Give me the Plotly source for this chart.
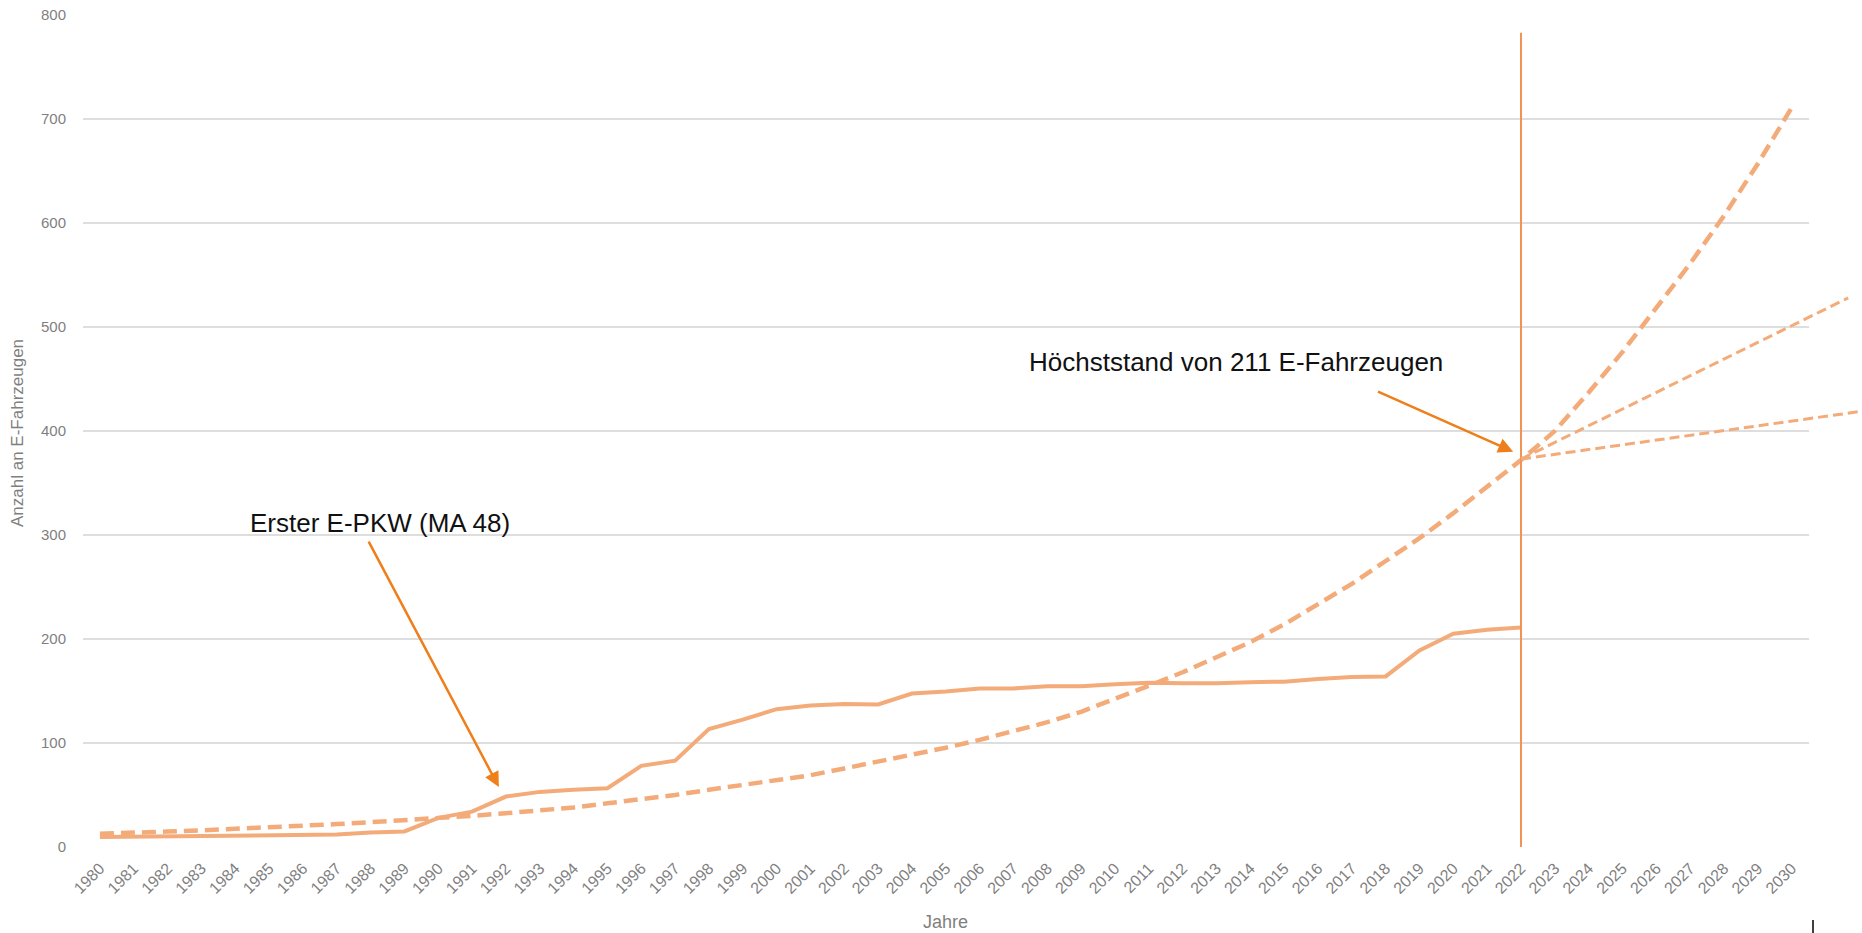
import plotly.graph_objects as go

# ---------------- data ----------------
years_all = list(range(1980, 2031))
years_actual = list(range(1980, 2023))
actual_counts = [9.6, 10, 10, 10, 10.3, 11, 11.5, 11.9, 14, 15,
                 28, 34, 48.5, 53, 55, 56.5, 78, 83, 113.5, 122.5,
                 132.5, 136, 137.5, 137, 147.5, 149.5, 152.5, 152.5, 154.5, 154.5,
                 156.5, 158, 157.5, 157.5, 158.5, 159, 161.5, 163.5, 164, 189,
                 205, 209, 211]
trend_values = [12.8, 13.5, 14.8, 16, 17.3, 18.7, 20.3, 22, 23.8, 25.7,
                27.8, 30, 32.5, 35, 38, 42, 45.5, 50, 55, 60,
                64, 69, 75.5, 82, 88.5, 95.5, 103, 111, 120, 130,
                142, 155, 168, 182, 197, 214, 233, 253, 275, 297,
                321, 346, 372, 400, 437, 476, 518, 561, 607, 657, 711]
proj_mid_x = [2022, 2031.67]
proj_mid_y = [373, 528]
proj_low_x = [2022, 2032.07]
proj_low_y = [373, 419]
marker_year_x = [2022, 2022]
marker_year_y = [0, 783]
y_ticks = list(range(0, 801, 100))
x_ticklabels = [str(y) for y in years_all]

# ---------------- layout constants ----------------
W, H = 1862, 933
ML, MR, MT, MB = 83, 0, 15, 86
PLOT_RIGHT_PX = 1808.6
d = (PLOT_RIGHT_PX - ML) / (W - ML - MR)
x_lo, x_hi = 1979.5, 2030.5
x2_hi = x_lo + (x_hi - x_lo) / d

LINE = "#F4AB7A"
ARROW = "#EE7F1A"
GRID = "#DEDEDE"
TXT = "#7F7F7F"
FONT = "Liberation Sans, Arial, sans-serif"

fig = go.Figure()

fig.add_trace(go.Scatter(x=years_all, y=trend_values, mode="lines",
                         line=dict(color=LINE, width=4.5, dash="14px,7px"),
                         xaxis="x", yaxis="y", hoverinfo="skip"))
fig.add_trace(go.Scatter(x=years_actual, y=actual_counts, mode="lines",
                         line=dict(color=LINE, width=4),
                         xaxis="x", yaxis="y"))
fig.add_trace(go.Scatter(x=marker_year_x, y=marker_year_y, mode="lines",
                         line=dict(color="#F29355", width=2),
                         xaxis="x", yaxis="y", hoverinfo="skip"))
fig.add_trace(go.Scatter(x=proj_mid_x, y=proj_mid_y, mode="lines",
                         line=dict(color=LINE, width=3, dash="10px,5px"),
                         xaxis="x2", yaxis="y2", hoverinfo="skip"))
fig.add_trace(go.Scatter(x=proj_low_x, y=proj_low_y, mode="lines",
                         line=dict(color=LINE, width=3, dash="10px,5px"),
                         xaxis="x2", yaxis="y2", hoverinfo="skip"))

fig.update_layout(
    width=W, height=H,
    margin=dict(l=ML, r=MR, t=MT, b=MB, pad=0),
    paper_bgcolor="white", plot_bgcolor="rgba(0,0,0,0)",
    showlegend=False,
    font=dict(family=FONT, color=TXT),
    xaxis=dict(domain=[0, d], range=[x_lo, x_hi], tickmode="array",
               tickvals=years_all, ticktext=x_ticklabels, tickangle=-45,
               tickfont=dict(size=16, color=TXT), showgrid=False, zeroline=False,
               showline=False, ticks="", ticklabelstandoff=8, anchor="y"),
    yaxis=dict(domain=[0, 1], range=[0, 800], tickmode="array", tickvals=y_ticks,
               tickfont=dict(size=15, color=TXT), showgrid=True, gridcolor=GRID,
               gridwidth=1.5, zeroline=False, showline=False, ticks="",
               ticklabelstandoff=16, anchor="x"),
    xaxis2=dict(domain=[0, 1], range=[x_lo, x2_hi], visible=False, anchor="y2"),
    yaxis2=dict(domain=[0, 1], range=[0, 800], visible=False, anchor="x2",
                showgrid=False),
)

plot_w = W - ML - MR
plot_h = H - MT - MB
annotations = [
    # axis titles
    dict(text="Jahre", xref="paper", yref="paper",
         x=(945 - ML) / plot_w, y=(H - MB - 922) / plot_h,
         showarrow=False, font=dict(size=18, color=TXT, family=FONT),
         xanchor="center", yanchor="middle"),
    dict(text="Anzahl an E-Fahrzeugen", xref="paper", yref="paper",
         x=(17 - ML) / plot_w, y=(H - MB - 433) / plot_h, textangle=-90,
         showarrow=False, font=dict(size=17, color=TXT, family=FONT),
         xanchor="center", yanchor="middle"),
    # callouts
    dict(text="Erster E-PKW (MA 48)", xref="x", yref="y", x=1988.28, y=312,
         showarrow=False, font=dict(size=26, color="#111111", family=FONT),
         xanchor="center", yanchor="middle"),
    dict(text="Höchststand von 211 E-Fahrzeugen", xref="x", yref="y", x=2013.57, y=466,
         showarrow=False, font=dict(size=26, color="#111111", family=FONT),
         xanchor="center", yanchor="middle"),
    dict(text="", xref="x", yref="y", x=1991.79, y=57.7, axref="x", ayref="y",
         ax=1987.92, ay=295, showarrow=True, arrowhead=2, arrowsize=1.2,
         arrowwidth=2.5, arrowcolor=ARROW, standoff=0),
    dict(text="", xref="x", yref="y", x=2021.77, y=380, axref="x", ayref="y",
         ax=2017.73, ay=438.5, showarrow=True, arrowhead=2, arrowsize=1.2,
         arrowwidth=2.5, arrowcolor=ARROW, standoff=0),
]
fig.update_layout(annotations=annotations)

# small stray cursor mark at the bottom right
fig.add_shape(type="line", xref="paper", yref="paper",
              x0=(1813 - ML) / plot_w, x1=(1813 - ML) / plot_w,
              y0=(H - MB - 920) / plot_h, y1=(H - MB - 933) / plot_h,
              line=dict(color="black", width=1.5))

fig.write_html(
    "out.html",
    config={"displayModeBar": False},
    post_script="document.body.style.margin='0';document.body.style.overflow='hidden';",
)
